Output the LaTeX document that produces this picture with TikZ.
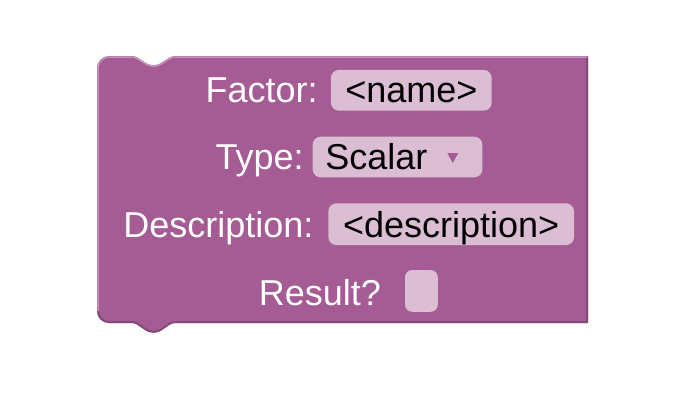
\documentclass[tikz,border=0pt]{standalone}
\usepackage{fontspec}
\setmainfont{Liberation Sans}
\definecolor{blockfill}{RGB}{165,91,147}
\definecolor{blocklight}{RGB}{196,146,184}
\definecolor{blockdark}{RGB}{132,73,118}
\definecolor{fieldfill}{RGB}{219,189,212}
\tikzset{
  lbl/.style={anchor=base, inner sep=0pt, text=white, font=\fontsize{36}{40}\selectfont},
  ftxt/.style={anchor=base, inner sep=0pt, text=black, font=\fontsize{36}{40}\selectfont},
  fieldbox/.style={draw=none, fill=fieldfill, rounded corners=8pt, inner sep=0pt},
}
\begin{document}
\begin{tikzpicture}[x=1pt,y=-1pt]
\useasboundingbox (0,0) rectangle (688,402);
% block body
\path[fill=blockfill] (97,68) arc[start angle=180,end angle=270,radius=12]
  [rounded corners=3pt] -- (135,56)
  -- (149,65) -- (158,65) -- (172,56) [sharp corners] -- (588,56) -- (588,323)
  [rounded corners=3pt] -- (172,323)
  -- (158,332.5) -- (149,332.5) -- (135,323) [sharp corners] -- (109,323)
  arc[start angle=90,end angle=180,radius=12] -- cycle;
% shadow (bottom and right)
\draw[blockdark, line width=2pt, line join=round] (587,57) -- (587,322)
  [rounded corners=3pt] -- (172,322)
  -- (158,331.5) -- (149,331.5) -- (135,322) [sharp corners] -- (109,322)
  arc[start angle=90,end angle=180,radius=11];
% highlight (top and left)
\draw[blocklight, line width=1.5pt, line join=round] (98,311) -- (98,68)
  arc[start angle=180,end angle=270,radius=11]
  [rounded corners=3pt] -- (135,57)
  -- (149,66) -- (158,66) -- (172,57) [sharp corners] -- (587,57);
% row 1
\node[lbl] (lfactor) at (261.7,102.5) {Factor:};
\node[fieldbox, minimum width=160.7pt, minimum height=40.7pt] (fname) at (411.3,90.3) {};
\node[ftxt] (tname) at (fname.center |- 0,102.5) {<name>};
% row 2
\node[lbl] (ltype) at (259.7,169.5) {Type:};
\node[fieldbox, minimum width=169.6pt, minimum height=40.6pt] (ftype) at (397.5,157) {};
\node[ftxt] (ttype) at (376.3,169.5) {Scalar};
\path[fill=blockfill] (447.3,153) -- (458.3,153) -- (452.8,163) -- cycle;
% row 3
\node[lbl] (ldesc) at (218.4,237.5) {Description:};
\node[fieldbox, minimum width=245.7pt, minimum height=41.7pt] (fdesc) at (451.2,224.2) {};
\node[ftxt] (tdesc) at (fdesc.center |- 0,237.5) {<description>};
% row 4
\node[lbl] (lresult) at (320,305) {Result?};
\node[fieldbox, rounded corners=7pt, minimum width=32.7pt, minimum height=41.7pt] (fcheck) at (421.4,290.9) {};
\end{tikzpicture}
\end{document}
